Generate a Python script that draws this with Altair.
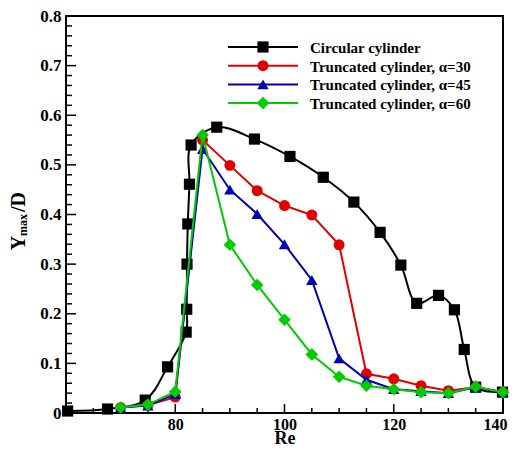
import altair as alt
import pandas as pd

# ---------------- data ----------------
circ_re = [60.3, 67.6, 74.5, 78.6, 82.0, 82.1, 82.15, 82.3, 82.6, 82.9, 87.6, 94.5, 101.0,
           107.1, 112.7, 117.5, 121.3, 124.2, 128.2, 131.1, 132.9, 135.0, 139.9]
circ_y = [0.004, 0.008, 0.026, 0.093, 0.163, 0.209, 0.300, 0.381, 0.461, 0.540, 0.576, 0.552, 0.517,
          0.475, 0.425, 0.364, 0.298, 0.221, 0.237, 0.208, 0.128, 0.052, 0.042]

trunc_re = [70, 75, 80, 85, 90, 95, 100, 105, 110, 115, 120, 125, 130, 135, 140]
a30_y = [0.011, 0.016, 0.032, 0.550, 0.499, 0.448, 0.418, 0.399, 0.339, 0.079, 0.069, 0.055, 0.045, 0.052, 0.042]
a45_y = [0.011, 0.015, 0.038, 0.532, 0.450, 0.401, 0.340, 0.268, 0.110, 0.067, 0.048, 0.044, 0.040, 0.052, 0.042]
a60_y = [0.011, 0.017, 0.043, 0.560, 0.339, 0.258, 0.188, 0.118, 0.073, 0.055, 0.048, 0.042, 0.040, 0.053, 0.042]

names = ["Circular cylinder", "Truncated cylinder, \u03b1=30",
         "Truncated cylinder, \u03b1=45", "Truncated cylinder, \u03b1=60"]
colors = ["#000000", "#e00000", "#0000b4", "#00cc00"]
shapes = ["square", "circle", "triangle-up", "diamond"]
sizes = [125, 120, 130, 160]
interps = ["catmull-rom", "linear", "linear", "linear"]

x_major = [60, 80, 100, 120, 140]
x_minor = [65, 70, 75, 85, 90, 95, 105, 110, 115, 125, 130, 135]
x_labels = [80, 100, 120, 140]
y_major = [0, 0.1, 0.2, 0.3, 0.4, 0.5, 0.6, 0.7, 0.8]
y_minor = [round(0.02 * i, 2) for i in range(41) if i % 5 != 0]

series = [(circ_re, circ_y), (trunc_re, a30_y), (trunc_re, a45_y), (trunc_re, a60_y)]

FONT = "Liberation Serif"
xs = alt.Scale(domain=[60, 140], nice=False, zero=False)
ys = alt.Scale(domain=[0, 0.8], nice=False, zero=False)

x_axis = alt.Axis(values=x_labels, ticks=False, domain=False, grid=False,
                  labelFont=FONT, labelFontWeight="bold", labelFontSize=16, labelColor="black",
                  labelPadding=3, labelFlush=False,
                  labelOffset={"condition": {"test": "datum.value == 140", "value": -8}, "value": 0},
                  title="Re", titleFont=FONT, titleFontWeight="bold",
                  titleFontSize=18, titleColor="black", titleBaseline="alphabetic", titleY=30)
y_axis = alt.Axis(values=y_major, ticks=False, domain=False, grid=False,
                  labelExpr="datum.value == 0 ? '0' : format(datum.value, '.1f')",
                  labelFont=FONT, labelFontWeight="bold", labelFontSize=17, labelColor="black",
                  labelPadding=5, title="", labelFlush=False)


def X(field):
    return alt.X(field, scale=xs, axis=x_axis)


def Y(field):
    return alt.Y(field, scale=ys, axis=y_axis)


layers = []

# inward ticks
def yticks(vals, ln):
    return alt.Chart(pd.DataFrame({"v": vals})).mark_rule(color="black", strokeWidth=1.5).encode(
        y=Y("v:Q"), x=alt.value(0), x2=alt.value(ln))


def xticks(vals, ln):
    return alt.Chart(pd.DataFrame({"v": vals})).mark_rule(color="black", strokeWidth=1.5).encode(
        x=X("v:Q"), y=alt.value(397), y2=alt.value(397 - ln))


layers += [yticks(y_major, 10), yticks(y_minor, 6), xticks(x_major, 9), xticks(x_minor, 5)]

for i, (rx, ry) in enumerate(series):
    df = pd.DataFrame({"Re": rx, "Y": ry, "idx": list(range(len(rx)))})
    line = alt.Chart(df).mark_line(color=colors[i], strokeWidth=2, interpolate=interps[i]).encode(
        x=X("Re:Q"), y=Y("Y:Q"), order="idx:Q")
    pts = alt.Chart(df).mark_point(color=colors[i], filled=True, opacity=1, shape=shapes[i],
                                   size=sizes[i]).encode(x=X("Re:Q"), y=Y("Y:Q"))
    layers += [line, pts]

# legend
dummy = pd.DataFrame({"a": [0]})
for i, nm in enumerate(names):
    yy = 31 + i * 18.7
    layers.append(alt.Chart(dummy).mark_rule(color=colors[i], strokeWidth=2).encode(
        x=alt.value(162), x2=alt.value(232), y=alt.value(yy)))
    layers.append(alt.Chart(dummy).mark_point(color=colors[i], filled=True, opacity=1, shape=shapes[i],
                                              size=sizes[i]).encode(
        x=alt.value(197), y=alt.value(yy)))
    layers.append(alt.Chart(dummy).mark_text(align="left", baseline="middle", font=FONT,
                                             fontWeight="bold", fontSize=15, color="black").encode(
        x=alt.value(244), y=alt.value(yy + 1), text=alt.value(nm)))

# y title: Y_max/D
title_parts = [("Y", 20, -41, 227), ("max", 12, -39, 209), ("/D", 20, -41, 186)]
for txt, fs, xx, yy in title_parts:
    layers.append(alt.Chart(dummy).mark_text(align="center", baseline="alphabetic", angle=270,
                                             font=FONT, fontWeight="bold", fontSize=fs,
                                             color="black").encode(
        x=alt.value(xx), y=alt.value(yy), text=alt.value(txt)))

chart = alt.layer(*layers).properties(
    width=437, height=397,
    padding={"left": 58, "top": 8, "right": 6, "bottom": 34},
    autosize="none",
    background="white",
).configure_view(stroke="black", strokeWidth=2)

chart.save("out.html", embed_options={"renderer": "svg", "actions": False})
